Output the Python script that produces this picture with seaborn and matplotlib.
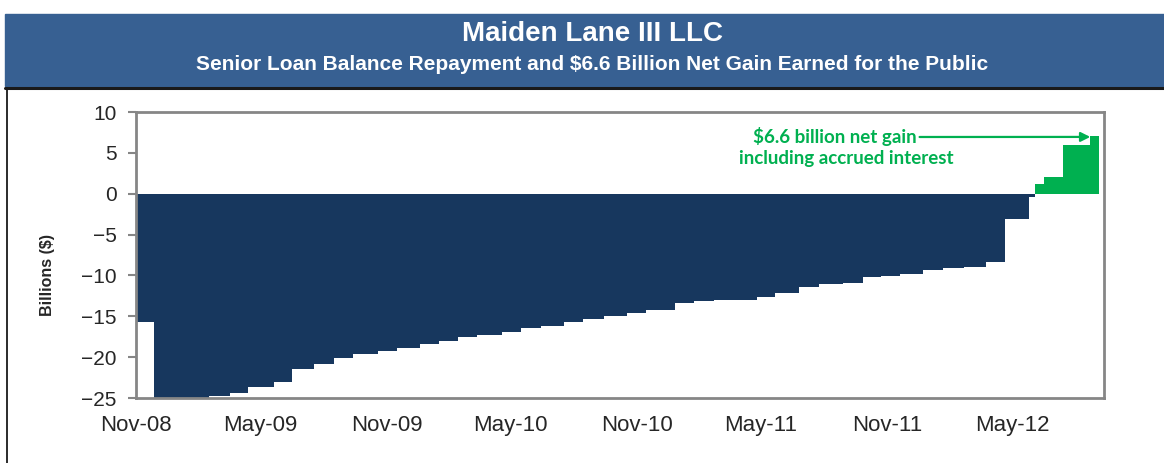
import matplotlib
matplotlib.use("Agg")
import matplotlib.pyplot as plt
import matplotlib.dates as mdates
from matplotlib.patches import Rectangle
from matplotlib.lines import Line2D
import seaborn as sns
import numpy as np
import pandas as pd

# senior loan balance (negative = owed), step changes at these dates
loan_dates = ["2008-11-01", "2008-11-27", "2009-02-16", "2009-03-18", "2009-04-13",
              "2009-05-21", "2009-06-16", "2009-07-19", "2009-08-17", "2009-09-14",
              "2009-10-20", "2009-11-17", "2009-12-20", "2010-01-17", "2010-02-14",
              "2010-03-13", "2010-04-18", "2010-05-16", "2010-06-14", "2010-07-18",
              "2010-08-14", "2010-09-14", "2010-10-17", "2010-11-14", "2010-12-26",
              "2011-01-23", "2011-02-21", "2011-04-25", "2011-05-22", "2011-06-25",
              "2011-07-24", "2011-08-29", "2011-09-26", "2011-10-23", "2011-11-20",
              "2011-12-23", "2012-01-22", "2012-02-21", "2012-03-24", "2012-04-20",
              "2012-05-25"]
loan_balance = [-15.7, -25.0, -24.8, -24.4, -23.7,
                -23.0, -21.5, -20.8, -20.1, -19.6,
                -19.25, -18.9, -18.45, -18.0, -17.5,
                -17.3, -16.9, -16.4, -16.15, -15.7,
                -15.35, -14.95, -14.6, -14.2, -13.4,
                -13.15, -12.95, -12.65, -12.2, -11.4,
                -11.1, -10.9, -10.2, -10.05, -9.85,
                -9.35, -9.15, -8.95, -8.4, -3.15,
                -0.45]

# net gain after the loan was repaid
gain_dates = ["2012-06-03", "2012-06-16", "2012-07-14", "2012-08-23"]
gain_values = [1.15, 2.0, 5.95, 7.05]
gain_end = "2012-09-05"

tick_dates = ["2008-11-01", "2009-05-01", "2009-11-01", "2010-05-01",
              "2010-11-01", "2011-05-01", "2011-11-01", "2012-05-01"]
y_ticks = [-25, -20, -15, -10, -5, 0, 5, 10]

NAVY = "#17375E"
GREEN = "#00B050"
HEADER = "#376092"
FRAME = "#868686"

sns.set_style("white")
plt.rcParams["font.family"] = ["Liberation Sans", "DejaVu Sans"]

loan = pd.DataFrame({"x": mdates.date2num(pd.to_datetime(loan_dates)), "w": loan_balance})
loan_edges = list(loan["x"]) + [mdates.date2num(pd.Timestamp(gain_dates[0]))]
gain = pd.DataFrame({"x": mdates.date2num(pd.to_datetime(gain_dates)), "w": gain_values})
gain_edges = list(gain["x"]) + [mdates.date2num(pd.Timestamp(gain_end))]

fig = plt.figure(figsize=(11.64, 4.63), dpi=100)

# header band
fig.add_artist(Rectangle((5 / 1164, 1 - 86 / 463), 1 - 5 / 1164, 72 / 463,
                         transform=fig.transFigure, color=HEADER, zorder=0))
fig.add_artist(Line2D([5 / 1164, 1], [1 - 87.5 / 463] * 2, transform=fig.transFigure,
                      color="#1a1a1a", lw=2.2))
fig.add_artist(Line2D([7 / 1164] * 2, [1 - 88 / 463, 0], transform=fig.transFigure,
                      color="#1a1a1a", lw=1.3))
fig.text(0.509, 1 - 34 / 463, "Maiden Lane III LLC", color="white", fontsize=20,
         fontweight="bold", ha="center", va="center")
fig.text(0.509, 1 - 64 / 463,
         "Senior Loan Balance Repayment and $6.6 Billion Net Gain Earned for the Public",
         color="white", fontsize=15, fontweight="bold", ha="center", va="center")

ax = fig.add_axes([136 / 1164, 65 / 463, 968 / 1164, 286 / 463])

sns.histplot(data=loan, x="x", weights="w", bins=loan_edges, element="step",
             fill=True, color=NAVY, alpha=1, linewidth=0, ax=ax)
sns.histplot(data=gain, x="x", weights="w", bins=gain_edges, element="step",
             fill=True, color=GREEN, alpha=1, linewidth=0, ax=ax)

ax.set_xlim(mdates.date2num(pd.Timestamp("2008-11-01")),
            mdates.date2num(pd.Timestamp("2012-09-12")))
ax.set_ylim(-25, 10)
ax.set_yticks(y_ticks)
ax.set_xticks(mdates.date2num(pd.to_datetime(tick_dates)))
ax.xaxis.set_major_formatter(mdates.DateFormatter("%b-%y"))

ax.tick_params(axis="y", length=6, width=1.5, color=FRAME, pad=8, labelsize=15, left=True)
ax.tick_params(axis="x", length=0, pad=12, labelsize=16)
for s in ax.spines.values():
    s.set_color(FRAME)
    s.set_linewidth(2)
ax.set_xlabel("")
ax.set_ylabel("Billions ($)", fontsize=11.5, fontweight="bold")
ax.yaxis.set_label_coords(-0.084, 0.43)

# annotation: first line carries the arrow, second line sits beneath
note_font = dict(color=GREEN, fontsize=13.5, fontweight="bold", family=["Lato", "DejaVu Sans"])
ax.annotate("$6.6 billion net gain", xy=(gain["x"].iloc[-1], gain_values[-1] - 0.1),
            xycoords="data", xytext=(0.7216, 0.9126), textcoords="axes fraction",
            ha="center", va="center",
            arrowprops=dict(arrowstyle="-|>", color=GREEN, lw=1.6, mutation_scale=14,
                            shrinkA=0, shrinkB=0, relpos=(1, 0.5)),
            **note_font)
ax.text(0.734, 0.839, "including accrued interest", transform=ax.transAxes,
        ha="center", va="center", **note_font)

fig.savefig("out.png", dpi=100)
